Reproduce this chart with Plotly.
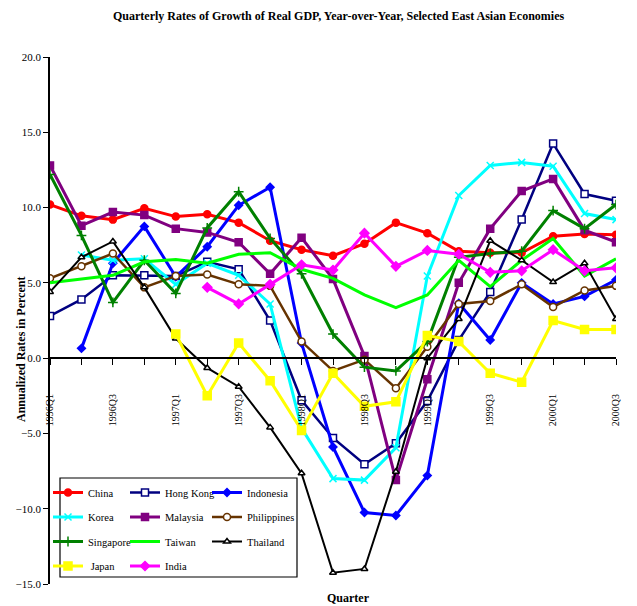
import plotly.graph_objects as go

quarters = ["1996Q1", "1996Q2", "1996Q3", "1996Q4", "1997Q1", "1997Q2", "1997Q3", "1997Q4",
            "1998Q1", "1998Q2", "1998Q3", "1998Q4", "1999Q1", "1999Q2", "1999Q3", "1999Q4",
            "2000Q1", "2000Q2", "2000Q3"]
tick_labels = [q if i % 2 == 0 else "" for i, q in enumerate(quarters)]

china = [10.2, 9.45, 9.2, 9.95, 9.4, 9.55, 9.0, 7.8, 7.2, 6.8, 7.6, 9.0, 8.3, 7.1, 7.0, 7.0, 8.1, 8.25, 8.2]
hong_kong = [2.8, 3.9, 5.5, 5.5, 5.45, 6.4, 5.9, 2.5, -2.8, -5.3, -7.05, -5.65, -2.85, 1.2, 4.4, 9.2, 14.25, 10.9, 10.45]
indonesia = [None, 0.65, 6.3, 8.75, 5.4, 7.4, 10.15, 11.35, 1.0, -5.9, -10.25, -10.45, -7.8, 3.65, 1.2, 5.0, 3.6, 4.1, 5.2]
korea = [None, 6.85, 6.5, 6.6, 4.9, 6.3, 5.5, 3.6, -4.65, -8.0, -8.1, -5.95, 5.45, 10.8, 12.8, 13.0, 12.75, 9.6, 9.2]
malaysia = [12.8, 8.8, 9.7, 9.5, 8.6, 8.35, 7.7, 5.6, 8.0, 5.25, 0.15, -8.1, -1.4, 5.0, 8.6, 11.1, 11.9, 8.5, 7.7]
philippines = [5.3, 6.1, 6.95, 4.7, 5.45, 5.55, 4.9, 4.8, 1.1, -0.85, -0.1, -2.0, 0.75, 3.6, 3.8, 4.9, 3.4, 4.5, 4.8]
singapore = [12.2, 8.15, 3.7, 6.5, 4.3, 8.65, 11.05, 7.95, 5.6, 1.6, -0.6, -0.85, 1.1, 6.7, 6.95, 7.1, 9.8, 8.6, 10.2]
taiwan = [5.0, 5.25, 5.5, 6.4, 6.55, 6.3, 6.9, 7.0, 5.9, 5.3, 4.2, 3.35, 4.2, 6.5, 4.75, 6.5, 7.95, 5.45, 6.6]
thailand = [4.4, 6.7, 7.75, 4.7, 1.3, -0.65, -1.9, -4.6, -7.65, -14.25, -14.0, -7.55, 0.0, 2.6, 7.8, 6.5, 5.05, 6.3, 2.6]
japan = [None, None, None, None, 1.6, -2.5, 1.0, -1.5, -4.8, -1.0, -3.2, -2.9, 1.5, 1.1, -1.0, -1.6, 2.5, 1.9, 1.9]
india = [None, None, None, None, None, 4.7, 3.6, 4.9, 6.2, 5.85, 8.3, 6.1, 7.15, 6.9, 5.7, 5.8, 7.2, 5.8, 6.0]

y_ticks = [-15, -10, -5, 0, 5, 10, 15, 20]

FONT = "Liberation Serif, Times New Roman, serif"

# name, values, color, line width, marker symbol, marker size, marker fill, legend id, legend rank
series = [
    ("China", china, "#FF0000", 3, "circle", 7, "#FF0000", "legend", 1),
    ("Hong Kong", hong_kong, "#000080", 2.5, "square", 7, "#FFFFFF", "legend2", 1),
    ("Indonesia", indonesia, "#0000FF", 3, "diamond", 6, "#0000FF", "legend3", 1),
    ("Korea", korea, "#00FFFF", 3, "x-thin-open", 7, "#00FFFF", "legend", 2),
    ("Malaysia", malaysia, "#800080", 3, "square", 7, "#800080", "legend2", 2),
    ("Philippines", philippines, "#663300", 2.5, "circle", 7, "#FFFFFF", "legend3", 2),
    ("Singapore", singapore, "#008000", 3, "cross-thin-open", 7, "#008000", "legend", 3),
    ("Taiwan", taiwan, "#00FF00", 3, None, 0, None, "legend2", 3),
    ("Thailand", thailand, "#000000", 2, "triangle-up", 6, "#FFFFFF", "legend3", 3),
    (" Japan", japan, "#FFFF00", 3, "square", 8, "#FFFF00", "legend", 4),
    ("India", india, "#FF00FF", 3, "diamond", 7, "#FF00FF", "legend2", 4),
]

fig = go.Figure()
for n, vals, color, lw, sym, size, fill, leg, rk in series:
    if sym is None:
        mode = "lines"
        marker = None
    else:
        mode = "lines+markers"
        marker = dict(symbol=sym, size=size, color=fill,
                      line=dict(color=color, width=1.5))
    fig.add_trace(go.Scatter(
        x=quarters, y=vals, name=n, mode=mode,
        line=dict(color=color, width=lw),
        marker=marker, legend=leg, legendgroup=n, legendrank=rk,
        connectgaps=False,
    ))

L, R, T, B = 50, 21, 57, 22
W, H = 637, 606
pw, ph = W - L - R, H - T - B


def px_x(x):
    return (x - L) / pw


def px_y(y):
    return (H - B - y) / ph


leg_font = dict(family=FONT, size=10.5, color="#000000")
leg_common = dict(orientation="v", bgcolor="rgba(0,0,0,0)", borderwidth=0,
                  font=leg_font, tracegroupgap=5.5, yanchor="top", xanchor="left",
                  itemwidth=30, traceorder="grouped")

fig.update_layout(
    width=W, height=H,
    margin=dict(l=L, r=R, t=T, b=B),
    paper_bgcolor="#FFFFFF", plot_bgcolor="#FFFFFF",
    font=dict(family=FONT, color="#000000"),
    showlegend=True,
    legend=dict(x=px_x(48), y=px_y(478), **leg_common),
    legend2=dict(x=px_x(125), y=px_y(478), **leg_common),
    legend3=dict(x=px_x(207), y=px_y(478), **leg_common),
    xaxis=dict(
        type="category", range=[0, 18],
        tickmode="array", tickvals=quarters, ticktext=[""] * len(quarters),
        ticks="outside", ticklen=6, tickcolor="#000000",
        showline=True, linecolor="#000000", linewidth=1.5,
        showgrid=False, zeroline=False,
        anchor="free", position=15 / 35,
    ),
    xaxis2=dict(
        type="linear", range=[0, len(quarters) - 1], overlaying="x",
        tickmode="array", tickvals=list(range(len(quarters))), ticktext=tick_labels,
        tickangle=-90, ticks="", showline=False, showgrid=False, zeroline=False,
        anchor="free", position=px_y(391),
        tickfont=dict(family=FONT, size=10, color="#000000"),
    ),
    yaxis=dict(
        range=[-15, 20], tickmode="array", tickvals=y_ticks,
        tickformat=".1f", ticks="outside", ticklen=5, tickcolor="#000000",
        showline=True, linecolor="#000000", linewidth=1.5,
        showgrid=False, zeroline=False,
        tickfont=dict(family=FONT, size=11, color="#000000"),
    ),
    shapes=[dict(type="rect", xref="paper", yref="paper",
                 x0=px_x(60), x1=px_x(297), y0=px_y(577), y1=px_y(478),
                 line=dict(color="#000000", width=1.2), fillcolor="rgba(0,0,0,0)",
                 layer="below")],
    annotations=[
        dict(text="<b>Quarterly Rates of Growth of Real GDP, Year-over-Year, Selected East Asian Economies</b>",
             xref="paper", yref="paper", x=px_x(338), y=px_y(16), showarrow=False,
             xanchor="center", yanchor="middle",
             font=dict(family=FONT, size=12, color="#000000")),
        dict(text="<b>Annualized Rates in Percent</b>", textangle=-90,
             xref="paper", yref="paper", x=px_x(21), y=px_y(350), showarrow=False,
             xanchor="center", yanchor="middle",
             font=dict(family=FONT, size=12, color="#000000")),
        dict(text="<b>Quarter</b>",
             xref="paper", yref="paper", x=px_x(348), y=px_y(598), showarrow=False,
             xanchor="center", yanchor="middle",
             font=dict(family=FONT, size=12, color="#000000")),
    ],
)

# invisible trace so the overlaying tick-label axis is drawn
fig.add_trace(go.Scatter(x=[0, len(quarters) - 1], y=[None, None], xaxis="x2",
                         showlegend=False, hoverinfo="skip", mode="lines"))

fig.write_html("out.html", config={"displayModeBar": False},
               post_script="document.body.style.margin='0px';")
